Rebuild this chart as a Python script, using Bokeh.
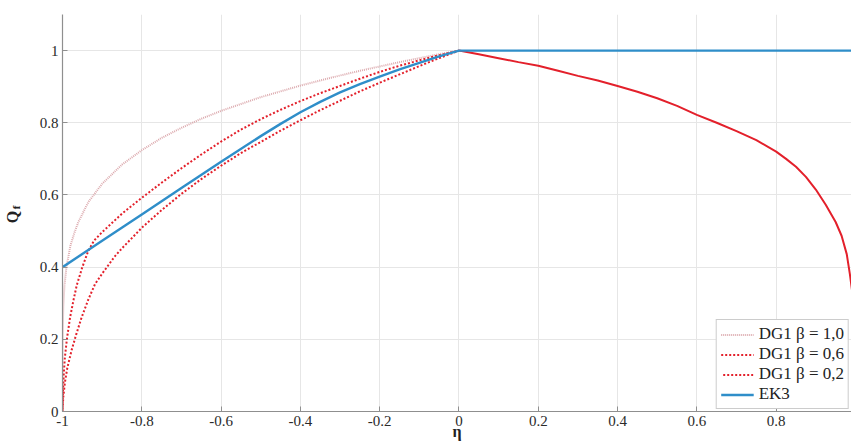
from bokeh.plotting import figure
from bokeh.models import Range1d, FixedTicker, Legend, LegendItem, LinearAxis
from bokeh.embed import file_html
from bokeh.resources import INLINE

# ---- data ----
# left branches (eta <= 0), one per curve
eta_b10 = [-1.0, -0.9998, -0.9993, -0.998, -0.995, -0.99, -0.98, -0.97, -0.96, -0.935, -0.9, -0.85, -0.8, -0.75, -0.7,
           -0.65, -0.6, -0.55, -0.5, -0.45, -0.4, -0.35, -0.3, -0.25, -0.2, -0.15, -0.1, -0.05, 0.0]
q_b10 = [0.0, 0.17, 0.23, 0.29, 0.35, 0.40, 0.46, 0.495, 0.525, 0.58, 0.631, 0.684, 0.724, 0.758, 0.786,
         0.811, 0.833, 0.852, 0.871, 0.887, 0.903, 0.917, 0.931, 0.944, 0.956, 0.968, 0.979, 0.99, 1.0]

eta_b06 = [-1.0, -0.999, -0.997, -0.994, -0.989, -0.981, -0.972, -0.964, -0.95, -0.935, -0.92, -0.9, -0.85, -0.8, -0.75,
           -0.7, -0.65, -0.6, -0.55, -0.5, -0.45, -0.4, -0.35, -0.3, -0.25, -0.2, -0.15, -0.1, -0.05, 0.0]
q_b06 = [0.0, 0.05, 0.10, 0.15, 0.20, 0.26, 0.31, 0.35, 0.40, 0.445, 0.474, 0.497, 0.548, 0.592, 0.634,
         0.674, 0.712, 0.748, 0.781, 0.81, 0.836, 0.86, 0.882, 0.902, 0.922, 0.941, 0.958, 0.973, 0.987, 1.0]

eta_b02 = [-1.0, -0.998, -0.994, -0.988, -0.977, -0.965, -0.952, -0.935, -0.918, -0.9, -0.868, -0.85, -0.8, -0.75, -0.7,
           -0.65, -0.6, -0.55, -0.5, -0.45, -0.4, -0.35, -0.3, -0.25, -0.2, -0.15, -0.1, -0.05, 0.0]
q_b02 = [0.0, 0.04, 0.08, 0.12, 0.17, 0.215, 0.26, 0.31, 0.353, 0.382, 0.43, 0.452, 0.509, 0.558, 0.603,
         0.644, 0.681, 0.716, 0.747, 0.778, 0.807, 0.835, 0.861, 0.887, 0.911, 0.934, 0.957, 0.979, 1.0]

# right branch (eta >= 0), shared by the three DG1 curves
eta_right = [0.0, 0.05, 0.1, 0.15, 0.2, 0.25, 0.3, 0.35, 0.4, 0.45, 0.5, 0.55, 0.6, 0.65, 0.7, 0.75, 0.8, 0.825, 0.85,
             0.875, 0.9, 0.925, 0.95, 0.965, 0.978, 0.986, 0.992, 0.997, 1.0]
q_right = [1.0, 0.99, 0.979, 0.968, 0.958, 0.944, 0.93, 0.917, 0.902, 0.886, 0.868, 0.847, 0.822, 0.80, 0.777, 0.752, 0.72, 0.70, 0.678,
           0.65, 0.615, 0.573, 0.525, 0.487, 0.436, 0.38, 0.33, 0.26, 0.0]

eta_ek3 = [-1.0, -0.9, -0.8, -0.7, -0.6, -0.5, -0.45, -0.4, -0.35, -0.3, -0.25, -0.2, -0.15, -0.1, -0.05, 0.0, 1.0]
q_ek3 = [0.40, 0.473, 0.546, 0.619, 0.692, 0.763, 0.797, 0.829, 0.858, 0.884, 0.907, 0.928, 0.948, 0.966, 0.984, 1.0, 1.0]

x_ticks = [-1, -0.8, -0.6, -0.4, -0.2, 0, 0.2, 0.4, 0.6, 0.8]
x_tick_labels = ["-1", "-0.8", "-0.6", "-0.4", "-0.2", "0", "0.2", "0.4", "0.6", "0.8"]
y_ticks = [0, 0.2, 0.4, 0.6, 0.8, 1]
y_tick_labels = ["0", "0.2", "0.4", "0.6", "0.8", "1"]

labels = ["DG1 \u03b2 = 1,0", "DG1 \u03b2 = 0,6", "DG1 \u03b2 = 0,2", "EK3"]

SERIF = "'Liberation Serif', 'Times New Roman', 'DejaVu Serif', serif"
NB = "\u00a0"

p = figure(width=851, height=444, output_backend="svg", toolbar_location=None,
           x_range=Range1d(-1, 0.99), y_range=Range1d(0, 1.1),
           min_border_left=62, min_border_right=0, min_border_top=14, min_border_bottom=33)
p.outline_line_color = None
p.background_fill_color = "white"
p.border_fill_color = "white"

for ax, ticks, tl in ((p.xaxis[0], x_ticks, x_tick_labels), (p.yaxis[0], y_ticks, y_tick_labels)):
    ax.ticker = FixedTicker(ticks=ticks)
    ax.major_label_overrides = {t: s for t, s in zip(ticks, tl)}
    ax.axis_line_color = "#8f8f8f"
    ax.axis_line_width = 1.2
    ax.major_tick_line_color = "#8f8f8f"
    ax.major_tick_in = 5
    ax.major_tick_out = 0
    ax.minor_tick_line_color = None
    ax.major_label_text_font = SERIF
    ax.major_label_text_font_size = "15px"
    ax.major_label_text_color = "#2a2a2a"
    ax.major_label_standoff = 4
    ax.axis_label_text_font = SERIF
    ax.axis_label_text_font_style = "bold"
    ax.axis_label_text_color = "#222222"

p.xaxis[0].axis_label = "\u03b7"
p.xaxis[0].axis_label_text_font_size = "16px"
p.xaxis[0].axis_label_standoff = -6

# subscript "f" on the y axis, "Q" on an outer label-only axis
p.yaxis[0].axis_label = NB * 4 + "f"
p.yaxis[0].axis_label_text_font_size = "11px"
p.yaxis[0].axis_label_standoff = 15

qaxis = LinearAxis(ticker=FixedTicker(ticks=[]), axis_label="Q" + NB * 2,
                   axis_line_color=None, major_tick_line_color=None, minor_tick_line_color=None,
                   major_tick_in=0, major_tick_out=0, major_label_standoff=0,
                   axis_label_standoff=-14, axis_label_text_font=SERIF,
                   axis_label_text_font_style="bold", axis_label_text_font_size="16px",
                   axis_label_text_color="#222222")
p.add_layout(qaxis, "left")

p.xgrid.ticker = FixedTicker(ticks=x_ticks)
p.ygrid.ticker = FixedTicker(ticks=y_ticks)
p.grid.grid_line_color = "#e6e6e6"
p.grid.grid_line_width = 1

r1 = p.line(eta_b10, q_b10, line_color="#dcaaae", line_width=2, line_dash="1 1")
r2 = p.line(eta_b06, q_b06, line_color="#e3202b", line_width=2, line_dash="2 2")
r3 = p.line(eta_b02, q_b02, line_color="#e3202b", line_width=2, line_dash="2 2", line_dash_offset=2)
p.line(eta_right, q_right, line_color="#e3202b", line_width=2)
r4 = p.line(eta_ek3, q_ek3, line_color="#2f8ec9", line_width=2.4)

legend = Legend(items=[LegendItem(label=l, renderers=[r]) for l, r in zip(labels, [r1, r2, r3, r4])],
                location="bottom_right")
legend.margin = 2
legend.padding = 4
legend.spacing = 0
legend.glyph_width = 33
legend.glyph_height = 19
legend.label_height = 19
legend.label_standoff = 5
legend.label_text_font = SERIF
legend.label_text_font_size = "17px"
legend.label_text_color = "#222222"
legend.border_line_color = "#9a9a9a"
legend.border_line_width = 1
legend.background_fill_color = "white"
legend.background_fill_alpha = 1
p.add_layout(legend)

open("out.html", "w").write(file_html(p, INLINE))
